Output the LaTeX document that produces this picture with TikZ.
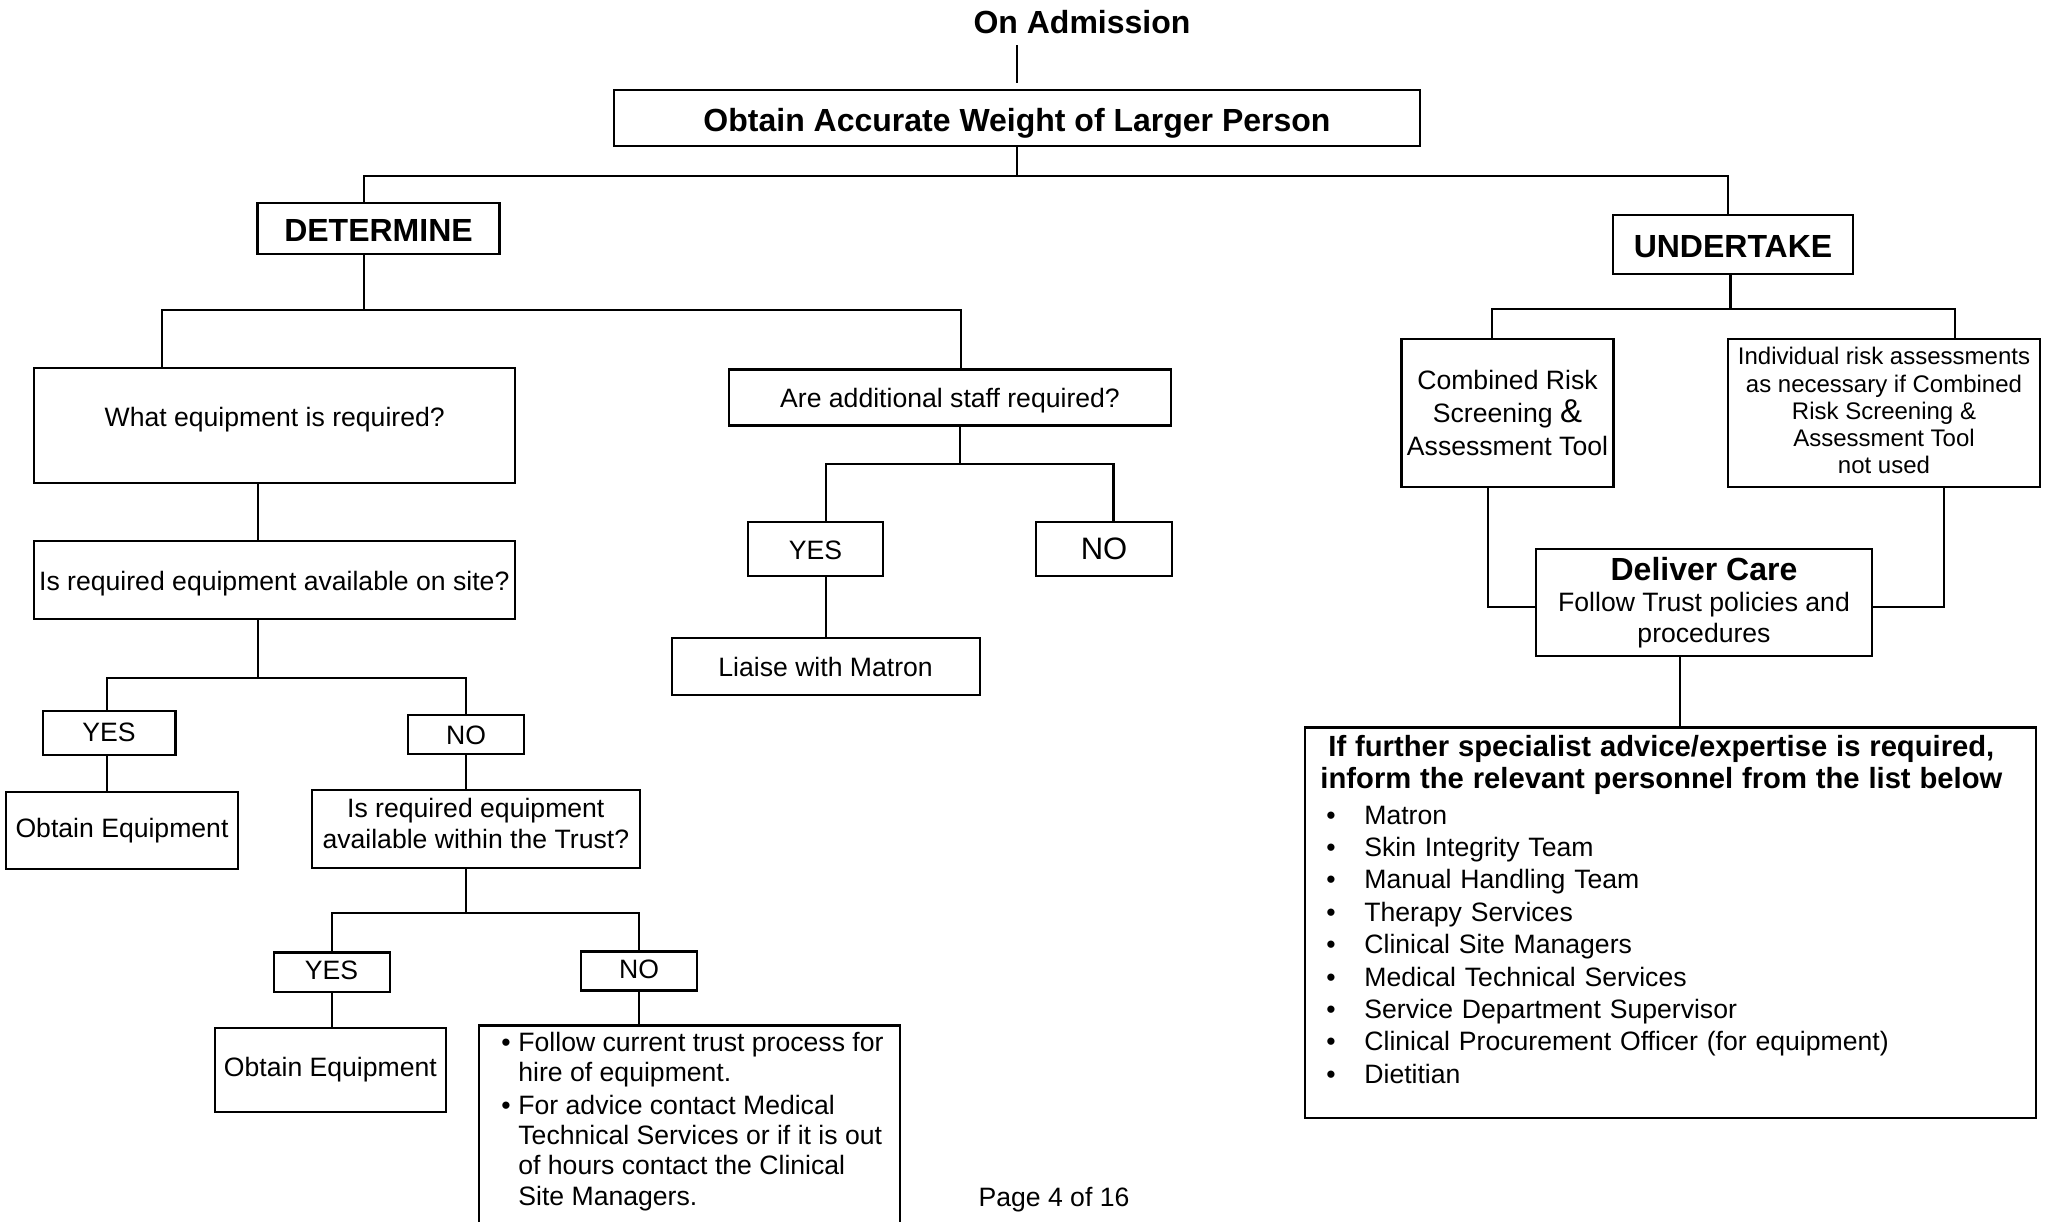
\documentclass[tikz,border=0pt]{standalone}
\usepackage{fontspec}
\setmainfont{Liberation Sans}

\begin{document}
\begin{tikzpicture}[x=0.5pt, y=-0.5pt,
  flowbox/.style={rectangle, draw=black, line width=1.1pt, inner sep=0pt,
    align=center, font=\fontsize{13.3}{15.5}\selectfont},
  headbox/.style={flowbox, font=\fontsize{16}{18}\selectfont\bfseries},
  plain/.style={inner sep=0pt, font=\fontsize{13.3}{15.5}\selectfont},
  link/.style={line width=1.1pt}
]
  \path[fill=white, use as bounding box] (0,0) rectangle (2045,1221);
  \clip (0,0) rectangle (2045,1221);

  % top of the tree
  \node[plain, font=\fontsize{16}{18}\selectfont\bfseries] (admit) at (1082,22) {On Admission};
  \node[headbox, minimum width=403pt, minimum height=28pt, text height=13.5pt, text depth=0pt]   (weight) at (1017,118)   {Obtain Accurate Weight of Larger Person};
  \node[headbox, minimum width=121pt, minimum height=25.5pt, text height=12.8pt, text depth=0pt] (det)    at (378.5,228.7) {DETERMINE};
  \node[headbox, minimum width=120pt, minimum height=29.5pt, text height=12.7pt, text depth=0pt] (und)    at (1733,244.5)  {UNDERTAKE};

  % determine branch
  \node[flowbox, minimum width=240.5pt, minimum height=57.5pt, text height=1.3pt, text depth=0pt]   (what)      at (274.7,425.5) {What equipment is required?};
  \node[flowbox, minimum width=221pt,   minimum height=28pt, text height=9.8pt, text depth=0pt]    (staff)     at (950,397.5)   {Are additional staff required?};
  \node[flowbox, minimum width=240.5pt, minimum height=39.25pt, text height=10.4pt, text depth=0pt] (site)      at (274.3,580)   {Is required equipment available on site?};
  \node[flowbox, minimum width=66.4pt,  minimum height=22pt, text height=9.3pt, text depth=0pt]    (siteyes)   at (109,732.6)   {YES};
  \node[flowbox, minimum width=58pt,    minimum height=19.5pt, text height=9.8pt, text depth=0pt]  (siteno)    at (466,734.5)   {NO};
  \node[flowbox, minimum width=115.8pt, minimum height=38.8pt, text height=7.2pt, text depth=0pt]  (getequip)  at (122,830.4)   {Obtain Equipment};
  \node[flowbox, minimum width=163.9pt, minimum height=39pt, text height=19pt, text depth=0pt,
        font=\fontsize{13.3}{15.3}\selectfont]                 (trustq)    at (475.8,829.2) {Is required equipment\\available within the Trust?};
  \node[flowbox, minimum width=58pt,    minimum height=19.9pt, text height=7.6pt, text depth=0pt]  (trustyes)  at (331.6,972.3) {YES};
  \node[flowbox, minimum width=58pt,    minimum height=19.5pt, text height=7.5pt, text depth=0pt]  (trustno)   at (639,971)     {NO};
  \node[flowbox, minimum width=115.4pt, minimum height=42.3pt, text height=6.5pt, text depth=0pt]  (getequipb) at (330.4,1070)  {Obtain Equipment};
  \node[flowbox, minimum width=210.5pt, minimum height=107.3pt] (hire)      at (689.5,1132.7) {};
  \node[plain, anchor=north west, align=left, font=\fontsize{13.3}{15.1}\selectfont] (hiretxt) at (501,1031.4)
    {\makebox[8.5pt][l]{\textbullet}Follow current trust process for\\
     \hspace*{8.5pt}hire of equipment.\\[1.5pt]
     \makebox[8.5pt][l]{\textbullet}For advice contact Medical\\
     \hspace*{8.5pt}Technical Services or if it is out\\
     \hspace*{8.5pt}of hours contact the Clinical\\
     \hspace*{8.5pt}Site Managers.};
  \node[flowbox, minimum width=67.5pt, minimum height=27pt, text height=10.4pt, text depth=0pt]    (staffyes) at (815.5,549) {YES};
  \node[flowbox, minimum width=68pt,   minimum height=27.25pt, text height=10.6pt, text depth=0pt,
        font=\fontsize{15.5}{17}\selectfont]                    (staffno)  at (1104,549)  {NO};
  \node[flowbox, minimum width=154pt,  minimum height=28.7pt, text height=10.4pt, text depth=0pt]  (matron)   at (825.6,666.4) {Liaise with Matron};

  % undertake branch
  \node[flowbox, minimum width=106pt, minimum height=74pt, font=\fontsize{13.3}{16.6}\selectfont] (crst) at (1507.5,413)
    {Combined Risk\\Screening {\fontsize{16.5}{16.6}\selectfont\&}\\Assessment Tool};
  \node[flowbox, minimum width=156pt, minimum height=74pt, text height=60.6pt, text depth=0pt,
        font=\fontsize{12}{13.6}\selectfont] (indiv) at (1884,413)
    {Individual risk assessments\\as necessary if Combined\\Risk Screening \&\\Assessment Tool\\not used};
  \node[flowbox, minimum width=168.3pt, minimum height=53.6pt] (care) at (1704,602.6)
    {{\fontsize{16}{17}\selectfont\bfseries Deliver Care}\\Follow Trust policies and\\procedures};
  \node[flowbox, minimum width=365.5pt, minimum height=195.2pt] (experts) at (1670.8,922.6) {};
  \node[plain, anchor=north west, text width=350pt, align=left, font=\fontsize{13.3}{16.2}\selectfont] (expertstxt) at (1311,735)
    {{\centering\fontsize{14.6}{15.75}\selectfont\bfseries If further specialist advice/expertise is required,\\
      inform the relevant personnel from the list below\par}
     \vspace{1.8pt}
     \hspace*{7.5pt}\makebox[19pt][l]{\textbullet}Matron\\
     \hspace*{7.5pt}\makebox[19pt][l]{\textbullet}Skin Integrity Team\\
     \hspace*{7.5pt}\makebox[19pt][l]{\textbullet}Manual Handling Team\\
     \hspace*{7.5pt}\makebox[19pt][l]{\textbullet}Therapy Services\\
     \hspace*{7.5pt}\makebox[19pt][l]{\textbullet}Clinical Site Managers\\
     \hspace*{7.5pt}\makebox[19pt][l]{\textbullet}Medical Technical Services\\
     \hspace*{7.5pt}\makebox[19pt][l]{\textbullet}Service Department Supervisor\\
     \hspace*{7.5pt}\makebox[19pt][l]{\textbullet}Clinical Procurement Officer (for equipment)\\
     \hspace*{7.5pt}\makebox[19pt][l]{\textbullet}Dietitian};

  \node[plain] (page) at (1054,1200) {Page 4 of 16};

  % junction points
  \coordinate (a1)  at (1017,45);
  \coordinate (b1l) at (364,176);    \coordinate (b1r) at (1728,176);
  \coordinate (b2l) at (162,310);    \coordinate (b2m) at (364,310);    \coordinate (b2r) at (961,310);
  \coordinate (b3l) at (107,678);    \coordinate (b3m) at (258,678);    \coordinate (b3r) at (466,678);
  \coordinate (b4l) at (331.6,912.7); \coordinate (b4m) at (466,912.7); \coordinate (b4r) at (639,912.7);
  \coordinate (b5l) at (826,464.3);  \coordinate (b5m) at (960,464.3);  \coordinate (b5r) at (1113.5,464.3);
  \coordinate (b6l) at (1491.8,309); \coordinate (b6m) at (1730.5,309); \coordinate (b6r) at (1954.7,309);
  \coordinate (k1)  at (1488,607.2); \coordinate (k2)  at (1943.8,607.2); \coordinate (k3) at (1679.8,700);

  % connectors
  \draw[link, shorten >=3pt] (a1) -- (weight.north);
  \draw[link] (weight) -- (weight |- b1l);
  \draw[link] (det.north -| b1l) -- (b1l) -- (b1r) -- (und.north -| b1r);
  \draw[link] (det.south -| b2m) -- (b2m);
  \draw[link] (what.north -| b2l) -- (b2l) -- (b2r) -- (staff.north -| b2r);
  \draw[link] (what.south -| b3m) -- (site.north -| b3m);
  \draw[link] (site.south -| b3m) -- (b3m);
  \draw[link] (siteyes.north -| b3l) -- (b3l) -- (b3r) -- (siteno.north -| b3r);
  \draw[link] (siteyes.south -| b3l) -- (getequip.north -| b3l);
  \draw[link] (siteno.south -| b3r) -- (trustq.north -| b3r);
  \draw[link] (trustq.south -| b4m) -- (b4m);
  \draw[link] (trustyes.north -| b4l) -- (b4l) -- (b4r) -- (trustno.north -| b4r);
  \draw[link] (trustyes.south -| b4l) -- (getequipb.north -| b4l);
  \draw[link] (trustno.south -| b4r) -- (hire.north -| b4r);
  \draw[link] (staff.south -| b5m) -- (b5m);
  \draw[link] (staffyes.north -| b5l) -- (b5l) -- (b5r) -- (staffno.north -| b5r);
  \draw[link] (staffyes.south -| b5l) -- (matron.north -| b5l);
  \draw[link] (und.south -| b6m) -- (b6m);
  \draw[link] (crst.north -| b6l) -- (b6l) -- (b6r) -- (indiv.north -| b6r);
  \draw[link] (crst.south -| k1) -- (k1) -- (care.west |- k1);
  \draw[link] (indiv.south -| k2) -- (k2) -- (care.east |- k2);
  \draw[link] (care.south -| k3) -- (experts.north -| k3);
\end{tikzpicture}
\end{document}
